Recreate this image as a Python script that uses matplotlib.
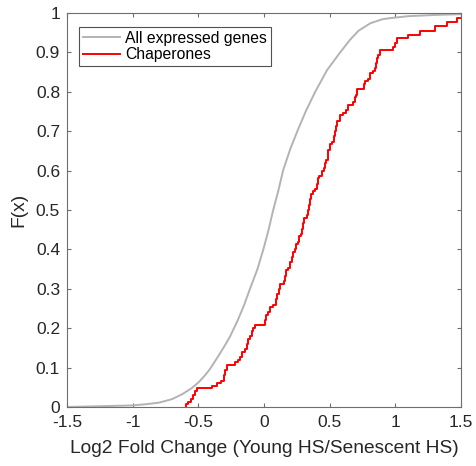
import numpy as np
import matplotlib
matplotlib.use("Agg")
import matplotlib.pyplot as plt

plt.rcParams['font.family'] = ['Liberation Sans', 'DejaVu Sans']
plt.rcParams['axes.unicode_minus'] = False

all_x = [-1.5, -1.25, -1.0, -0.9, -0.8, -0.7, -0.62, -0.55, -0.5, -0.45, -0.41, -0.35,
         -0.3, -0.26, -0.2, -0.15, -0.11, -0.05, -0.005, 0.035, 0.07, 0.11, 0.145,
         0.2, 0.26, 0.32, 0.39, 0.48, 0.58, 0.655, 0.72, 0.81, 0.9, 0.96, 1.1,
         1.3, 1.5]
all_F = [0.0, 0.002, 0.004, 0.007, 0.011, 0.02, 0.033, 0.048, 0.062, 0.08, 0.097, 0.128,
         0.155, 0.178, 0.22, 0.26, 0.297, 0.35, 0.40, 0.45, 0.50, 0.55, 0.60,
         0.655, 0.705, 0.752, 0.80, 0.855, 0.90, 0.932, 0.955, 0.974, 0.984, 0.987, 0.992,
         0.995, 0.997]

# Chaperones: step positions and CDF level after each step
chap_x = [-0.597, -0.575, -0.555, -0.54, -0.525, -0.51, -0.395, -0.36, -0.33,
          -0.305, -0.295, -0.285, -0.22, -0.2, -0.185, -0.165, -0.145, -0.13,
          -0.12, -0.105, -0.095, -0.085, -0.07, 0.008, 0.015, 0.03, 0.045, 0.07,
          0.09, 0.1, 0.115, 0.122, 0.15, 0.16, 0.17, 0.185, 0.2, 0.21, 0.22,
          0.236, 0.245, 0.26, 0.27, 0.28, 0.29, 0.3, 0.305, 0.325, 0.335, 0.345,
          0.35, 0.36, 0.37, 0.39, 0.4, 0.41, 0.42, 0.44, 0.46, 0.465, 0.475,
          0.485, 0.49, 0.5, 0.52, 0.53, 0.54, 0.548, 0.556, 0.575, 0.6, 0.625,
          0.64, 0.68, 0.69, 0.7, 0.71, 0.765, 0.77, 0.79, 0.805, 0.83, 0.845,
          0.85, 0.86, 0.87, 0.88, 0.985, 0.995, 1.013, 1.1, 1.19, 1.30, 1.305,
          1.39, 1.47, 1.6]
chap_F = [0.007, 0.013, 0.02, 0.03, 0.04, 0.047, 0.053, 0.06, 0.067,
          0.08, 0.093, 0.107, 0.113, 0.12, 0.127, 0.14, 0.147, 0.16,
          0.173, 0.18, 0.193, 0.2, 0.207, 0.22, 0.233, 0.24, 0.253, 0.26,
          0.273, 0.287, 0.3, 0.313, 0.32, 0.333, 0.347, 0.353, 0.367, 0.38, 0.393,
          0.4, 0.413, 0.42, 0.433, 0.44, 0.453, 0.467, 0.48, 0.487, 0.5, 0.513,
          0.527, 0.54, 0.547, 0.553, 0.567, 0.58, 0.587, 0.6, 0.607, 0.62, 0.627,
          0.64, 0.653, 0.667, 0.673, 0.687, 0.7, 0.713, 0.727, 0.74, 0.747, 0.753,
          0.767, 0.773, 0.787, 0.793, 0.807, 0.82, 0.827, 0.833, 0.847, 0.853, 0.86,
          0.873, 0.887, 0.893, 0.907, 0.913, 0.924, 0.937, 0.944, 0.954, 0.962, 0.968,
          0.977, 0.987, 0.987]

x_ticks = [-1.5, -1, -0.5, 0, 0.5, 1, 1.5]
x_labels = ['-1.5', '-1', '-0.5', '0', '0.5', '1', '1.5']
y_ticks = [0, 0.1, 0.2, 0.3, 0.4, 0.5, 0.6, 0.7, 0.8, 0.9, 1]
y_labels = ['0', '0.1', '0.2', '0.3', '0.4', '0.5', '0.6', '0.7', '0.8', '0.9', '1']

fig = plt.figure(figsize=(4.77, 4.66), dpi=100)
ax = fig.add_axes([67/477, 59/466, 394/477, 394/466])

ax.plot(all_x, all_F, color='#b3b3b3', lw=1.4, label='All expressed genes')
sx = [chap_x[0]] + chap_x
sF = [0.0] + chap_F
ax.step(sx, sF, where='post', color='#ff0000', lw=1.4, label='Chaperones')

ax.set_xlim(-1.5, 1.5)
ax.set_ylim(0, 1)
ax.set_xticks(x_ticks)
ax.set_xticklabels(x_labels)
ax.set_yticks(y_ticks)
ax.set_yticklabels(y_labels)

axc = '#6e6e6e'
for s in ax.spines.values():
    s.set_color(axc)
    s.set_linewidth(0.8)
ax.tick_params(direction='in', length=3, width=0.8, color=axc,
               top=True, right=True, labelsize=12.5, labelcolor='#262626')
ax.tick_params(axis='x', pad=6)
ax.tick_params(axis='y', pad=5)
ax.set_xlabel('Log2 Fold Change (Young HS/Senescent HS)', fontsize=13.8, color='#262626', labelpad=7)
ax.set_ylabel('F(x)', fontsize=13.8, color='#262626', labelpad=6)

leg = ax.legend(loc='upper left', bbox_to_anchor=(0.03, 0.965), fontsize=11.3,
                frameon=True, fancybox=False, handlelength=2.4, handletextpad=0.3,
                borderpad=0.25, labelspacing=0.1, borderaxespad=0.0)
leg.get_frame().set_edgecolor('#262626')
leg.get_frame().set_linewidth(0.8)
for t in leg.get_texts():
    t.set_color('#000000')

fig.savefig('out.png', dpi=100)
